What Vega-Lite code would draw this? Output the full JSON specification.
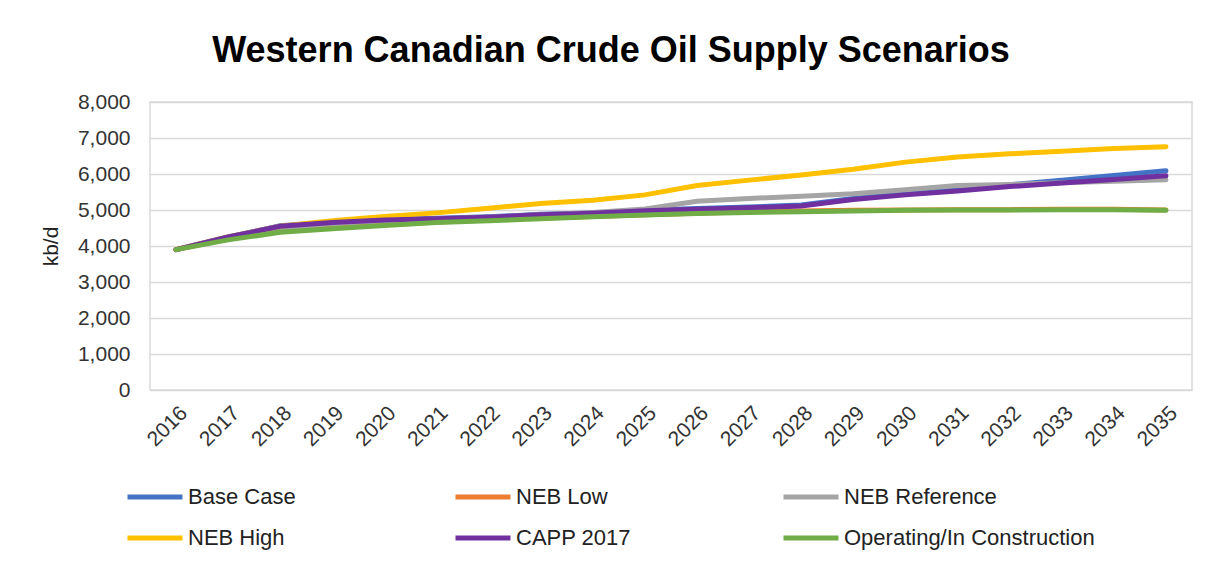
{
  "$schema": "https://vega.github.io/schema/vega-lite/v6.json",
  "width": 1042,
  "height": 288,
  "autosize": {"type": "none"},
  "padding": {"left": 150, "top": 102, "right": 25, "bottom": 177},
  "background": "white",
  "config": {
    "font": "Liberation Sans",
    "view": {"stroke": "#d9d9d9", "strokeWidth": 1.5},
    "axis": {"labelFont": "Liberation Sans", "titleFont": "Liberation Sans", "labelColor": "#333333", "titleColor": "#222222"}
  },
  "title": {"text": "Western Canadian Crude Oil Supply Scenarios", "fontSize": 36, "font": "Liberation Sans", "fontWeight": "bold", "color": "#000000", "anchor": "middle", "dx": -60, "offset": 21},
  "data": {"values": [
    {"s":"Base Case","y":"2016","v":3900},{"s":"Base Case","y":"2017","v":4250},{"s":"Base Case","y":"2018","v":4560},{"s":"Base Case","y":"2019","v":4660},{"s":"Base Case","y":"2020","v":4730},{"s":"Base Case","y":"2021","v":4770},{"s":"Base Case","y":"2022","v":4810},{"s":"Base Case","y":"2023","v":4880},{"s":"Base Case","y":"2024","v":4920},{"s":"Base Case","y":"2025","v":4990},{"s":"Base Case","y":"2026","v":5040},{"s":"Base Case","y":"2027","v":5080},{"s":"Base Case","y":"2028","v":5140},{"s":"Base Case","y":"2029","v":5320},{"s":"Base Case","y":"2030","v":5460},{"s":"Base Case","y":"2031","v":5580},{"s":"Base Case","y":"2032","v":5700},{"s":"Base Case","y":"2033","v":5830},{"s":"Base Case","y":"2034","v":5960},{"s":"Base Case","y":"2035","v":6090},
    {"s":"NEB Low","y":"2016","v":3900},{"s":"NEB Low","y":"2017","v":4200},{"s":"NEB Low","y":"2018","v":4420},{"s":"NEB Low","y":"2019","v":4520},{"s":"NEB Low","y":"2020","v":4600},{"s":"NEB Low","y":"2021","v":4670},{"s":"NEB Low","y":"2022","v":4720},{"s":"NEB Low","y":"2023","v":4780},{"s":"NEB Low","y":"2024","v":4820},{"s":"NEB Low","y":"2025","v":4870},{"s":"NEB Low","y":"2026","v":4910},{"s":"NEB Low","y":"2027","v":4950},{"s":"NEB Low","y":"2028","v":4970},{"s":"NEB Low","y":"2029","v":4990},{"s":"NEB Low","y":"2030","v":5000},{"s":"NEB Low","y":"2031","v":5010},{"s":"NEB Low","y":"2032","v":5010},{"s":"NEB Low","y":"2033","v":5020},{"s":"NEB Low","y":"2034","v":5020},{"s":"NEB Low","y":"2035","v":5000},
    {"s":"NEB Reference","y":"2016","v":3900},{"s":"NEB Reference","y":"2017","v":4230},{"s":"NEB Reference","y":"2018","v":4500},{"s":"NEB Reference","y":"2019","v":4620},{"s":"NEB Reference","y":"2020","v":4700},{"s":"NEB Reference","y":"2021","v":4750},{"s":"NEB Reference","y":"2022","v":4800},{"s":"NEB Reference","y":"2023","v":4870},{"s":"NEB Reference","y":"2024","v":4930},{"s":"NEB Reference","y":"2025","v":5030},{"s":"NEB Reference","y":"2026","v":5240},{"s":"NEB Reference","y":"2027","v":5320},{"s":"NEB Reference","y":"2028","v":5380},{"s":"NEB Reference","y":"2029","v":5450},{"s":"NEB Reference","y":"2030","v":5560},{"s":"NEB Reference","y":"2031","v":5680},{"s":"NEB Reference","y":"2032","v":5710},{"s":"NEB Reference","y":"2033","v":5760},{"s":"NEB Reference","y":"2034","v":5800},{"s":"NEB Reference","y":"2035","v":5840},
    {"s":"NEB High","y":"2016","v":3900},{"s":"NEB High","y":"2017","v":4250},{"s":"NEB High","y":"2018","v":4550},{"s":"NEB High","y":"2019","v":4700},{"s":"NEB High","y":"2020","v":4820},{"s":"NEB High","y":"2021","v":4920},{"s":"NEB High","y":"2022","v":5050},{"s":"NEB High","y":"2023","v":5180},{"s":"NEB High","y":"2024","v":5270},{"s":"NEB High","y":"2025","v":5420},{"s":"NEB High","y":"2026","v":5680},{"s":"NEB High","y":"2027","v":5830},{"s":"NEB High","y":"2028","v":5970},{"s":"NEB High","y":"2029","v":6130},{"s":"NEB High","y":"2030","v":6330},{"s":"NEB High","y":"2031","v":6470},{"s":"NEB High","y":"2032","v":6560},{"s":"NEB High","y":"2033","v":6630},{"s":"NEB High","y":"2034","v":6710},{"s":"NEB High","y":"2035","v":6760},
    {"s":"CAPP 2017","y":"2016","v":3900},{"s":"CAPP 2017","y":"2017","v":4250},{"s":"CAPP 2017","y":"2018","v":4550},{"s":"CAPP 2017","y":"2019","v":4650},{"s":"CAPP 2017","y":"2020","v":4720},{"s":"CAPP 2017","y":"2021","v":4760},{"s":"CAPP 2017","y":"2022","v":4800},{"s":"CAPP 2017","y":"2023","v":4870},{"s":"CAPP 2017","y":"2024","v":4910},{"s":"CAPP 2017","y":"2025","v":4980},{"s":"CAPP 2017","y":"2026","v":5020},{"s":"CAPP 2017","y":"2027","v":5060},{"s":"CAPP 2017","y":"2028","v":5110},{"s":"CAPP 2017","y":"2029","v":5290},{"s":"CAPP 2017","y":"2030","v":5420},{"s":"CAPP 2017","y":"2031","v":5530},{"s":"CAPP 2017","y":"2032","v":5650},{"s":"CAPP 2017","y":"2033","v":5750},{"s":"CAPP 2017","y":"2034","v":5850},{"s":"CAPP 2017","y":"2035","v":5950},
    {"s":"Operating/In Construction","y":"2016","v":3900},{"s":"Operating/In Construction","y":"2017","v":4170},{"s":"Operating/In Construction","y":"2018","v":4380},{"s":"Operating/In Construction","y":"2019","v":4480},{"s":"Operating/In Construction","y":"2020","v":4570},{"s":"Operating/In Construction","y":"2021","v":4650},{"s":"Operating/In Construction","y":"2022","v":4700},{"s":"Operating/In Construction","y":"2023","v":4760},{"s":"Operating/In Construction","y":"2024","v":4810},{"s":"Operating/In Construction","y":"2025","v":4860},{"s":"Operating/In Construction","y":"2026","v":4900},{"s":"Operating/In Construction","y":"2027","v":4930},{"s":"Operating/In Construction","y":"2028","v":4950},{"s":"Operating/In Construction","y":"2029","v":4970},{"s":"Operating/In Construction","y":"2030","v":4990},{"s":"Operating/In Construction","y":"2031","v":5000},{"s":"Operating/In Construction","y":"2032","v":5000},{"s":"Operating/In Construction","y":"2033","v":5010},{"s":"Operating/In Construction","y":"2034","v":5010},{"s":"Operating/In Construction","y":"2035","v":4990}
  ]},
  "encoding": {
    "x": {"field": "y", "type": "ordinal", "title": null, "scale": {"type": "point", "padding": 0.5},
      "axis": {"labelAngle": -45, "labelFontSize": 21, "domain": false, "ticks": false, "labelPadding": 12, "grid": false}},
    "y": {"field": "v", "type": "quantitative", "title": "kb/d", "scale": {"domain": [0, 8000], "nice": false},
      "axis": {"values": [0,1000,2000,3000,4000,5000,6000,7000,8000], "format": ",d", "labelFontSize": 21, "titleFontSize": 21, "titleFontWeight": "normal", "domain": false, "ticks": false, "labelPadding": 20, "titlePadding": 16, "gridColor": "#d9d9d9", "gridWidth": 1.5}},
    "color": {"field": "s", "type": "nominal",
      "scale": {"domain": ["Base Case","NEB Low","NEB Reference","NEB High","CAPP 2017","Operating/In Construction"], "range": ["#4472C4","#ED7D31","#A5A5A5","#FFC000","#7030A0","#70AD47"]},
      "legend": {"title": null, "orient": "none", "direction": "horizontal", "legendX": -25, "legendY": 365, "columns": 3, "gridAlign": "all", "columnPadding": 6, "rowPadding": -14, "symbolType": "stroke", "symbolSize": 3025, "symbolStrokeWidth": 5, "labelFontSize": 22, "labelFont": "Liberation Sans", "labelColor": "#222222", "labelOffset": 3, "labelLimit": 400}}
  },
  "layer": [
    {"transform": [{"filter": "datum.s == 'Base Case'"}], "mark": {"type": "line", "strokeWidth": 5, "strokeCap": "round"}},
    {"transform": [{"filter": "datum.s == 'NEB Low'"}], "mark": {"type": "line", "strokeWidth": 5, "strokeCap": "round"}},
    {"transform": [{"filter": "datum.s == 'NEB Reference'"}], "mark": {"type": "line", "strokeWidth": 5, "strokeCap": "round"}},
    {"transform": [{"filter": "datum.s == 'NEB High'"}], "mark": {"type": "line", "strokeWidth": 5, "strokeCap": "round"}},
    {"transform": [{"filter": "datum.s == 'CAPP 2017'"}], "mark": {"type": "line", "strokeWidth": 5, "strokeCap": "round"}},
    {"transform": [{"filter": "datum.s == 'Operating/In Construction'"}], "mark": {"type": "line", "strokeWidth": 5, "strokeCap": "round"}}
  ]
}
